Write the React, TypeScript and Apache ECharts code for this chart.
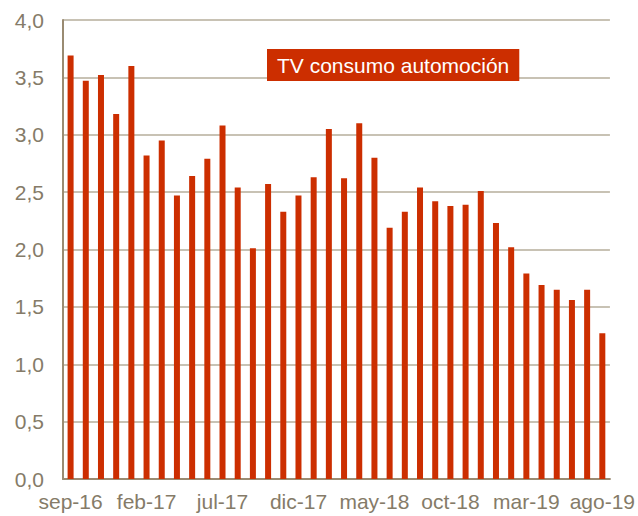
import React, { useEffect, useRef } from "react";
import * as echarts from "echarts";

const categories = [
  "sep-16", "oct-16", "nov-16", "dic-16", "ene-17", "feb-17", "mar-17", "abr-17", "may-17", "jun-17",
  "jul-17", "ago-17", "sep-17", "oct-17", "nov-17", "dic-17", "ene-18", "feb-18", "mar-18", "abr-18",
  "may-18", "jun-18", "jul-18", "ago-18", "sep-18", "oct-18", "nov-18", "dic-18", "ene-19", "feb-19",
  "mar-19", "abr-19", "may-19", "jun-19", "jul-19", "ago-19",
];

const values = [
  3.69, 3.47, 3.52, 3.18, 3.60, 2.82, 2.95, 2.47, 2.64, 2.79,
  3.08, 2.54, 2.01, 2.57, 2.33, 2.47, 2.63, 3.05, 2.62, 3.10,
  2.80, 2.19, 2.33, 2.54, 2.42, 2.38, 2.39, 2.51, 2.23, 2.02,
  1.79, 1.69, 1.65, 1.56, 1.65, 1.27,
];

const titleText = "TV consumo automoción";

export default function App() {
  const ref = useRef<HTMLDivElement>(null);
  useEffect(() => {
    if (!ref.current) return;
    const chart = echarts.init(ref.current, undefined, { renderer: "svg" });
    const font = "'Liberation Sans', Arial, sans-serif";
    chart.setOption({
      animation: false,
      backgroundColor: "#ffffff",
      title: {
        text: titleText,
        left: 267,
        top: 49,
        backgroundColor: "#cc2e00",
        padding: [6, 10, 5, 10],
        textStyle: { color: "#ffffff", fontSize: 21, fontWeight: "normal", fontFamily: font },
      },
      grid: { left: 63, right: 27, top: 20, bottom: 37, containLabel: false },
      xAxis: {
        type: "category",
        data: categories,
        boundaryGap: true,
        axisLine: { show: true, lineStyle: { color: "#9a8b72", width: 2 } },
        axisTick: { show: false },
        axisLabel: {
          interval: 4,
          color: "#857b68",
          fontSize: 21,
          fontFamily: font,
          margin: 12,
        },
        splitLine: { show: false },
      },
      yAxis: {
        type: "value",
        min: 0,
        max: 4,
        interval: 0.5,
        axisLine: { show: true, lineStyle: { color: "#9a8b72", width: 2 } },
        axisTick: { show: false },
        axisLabel: {
          color: "#857b68",
          fontSize: 21,
          fontFamily: font,
          margin: 19,
          formatter: (v: number) => v.toFixed(1).replace(".", ","),
        },
        splitLine: { show: true, lineStyle: { color: "#c8c2b4", width: 2 } },
      },
      series: [
        {
          type: "bar",
          data: values,
          barWidth: 6,
          itemStyle: { color: "#cc2e00" },
        },
      ],
    });
    return () => chart.dispose();
  }, []);
  return (
    <div
      ref={ref}
      style={{ position: "absolute", left: 0, top: 0, width: 638, height: 516 }}
    />
  );
}
